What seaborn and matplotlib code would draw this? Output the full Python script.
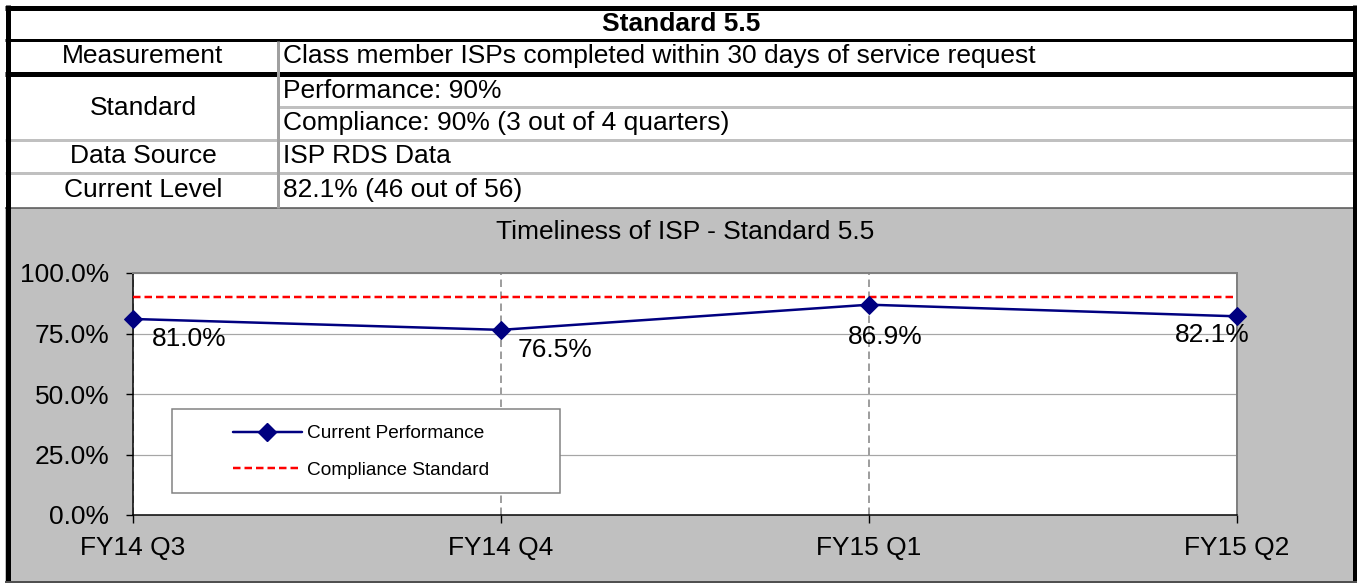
import matplotlib
matplotlib.use("Agg")
import matplotlib.pyplot as plt
import seaborn as sns
import pandas as pd
from matplotlib.patches import Rectangle
from matplotlib.lines import Line2D
from matplotlib.ticker import FuncFormatter

# ---------------- data ----------------
quarters = ["FY14 Q3", "FY14 Q4", "FY15 Q1", "FY15 Q2"]
performance = [81.0, 76.5, 86.9, 82.1]
compliance = [90.0, 90.0, 90.0, 90.0]
yticks = [0, 25, 50, 75, 100]

table_title = "Standard 5.5"
row_labels = ["Measurement", "Standard", "Data Source", "Current Level"]
measurement_text = "Class member ISPs completed within 30 days of service request"
standard_texts = ["Performance: 90%", "Compliance: 90% (3 out of 4 quarters)"]
data_source_text = "ISP RDS Data"
current_level_text = "82.1% (46 out of 56)"
chart_title = "Timeliness of ISP - Standard 5.5"
series_names = ["Current Performance", "Compliance Standard"]

# ---------------- style ----------------
sns.set_style("white")
plt.rcParams["font.family"] = ["Liberation Sans", "DejaVu Sans"]
plt.rcParams["text.color"] = "black"
plt.rcParams["xtick.color"] = "black"
plt.rcParams["ytick.color"] = "black"
plt.rcParams["axes.labelcolor"] = "black"

W, H = 1357, 584
fig = plt.figure(figsize=(W / 100, H / 100), dpi=100)
PX = 0.72  # points per pixel

bg = fig.add_axes([0, 0, 1, 1])
bg.set_xlim(0, W)
bg.set_ylim(H, 0)
bg.axis("off")

FS = 19
NAVY = "#000080"

# chart background
bg.add_patch(Rectangle((5, 208), W - 5, 374, facecolor="#c0c0c0", edgecolor="none", zorder=0))
# table background
bg.add_patch(Rectangle((5, 5), W - 5, 203, facecolor="white", edgecolor="none", zorder=0))

def hline(y, x0, x1, lw_px, color):
    bg.plot([x0, x1], [y, y], color=color, lw=lw_px * PX, solid_capstyle="butt", zorder=2)

def vline(x, y0, y1, lw_px, color):
    bg.plot([x, x], [y0, y1], color=color, lw=lw_px * PX, solid_capstyle="butt", zorder=2)

# inner table lines
hline(39.5, 5, W, 3, "black")
hline(73.5, 5, W, 5, "black")
hline(106.5, 277, W, 3, "#c0c0c0")
hline(140, 5, W, 3, "#c0c0c0")
hline(172.5, 5, W, 3, "#c0c0c0")
hline(208, 5, W, 1.5, "#505050")
vline(277.5, 41, 208, 3, "#a0a0a0")
# outer frame
hline(7.5, 5, W, 5, "black")
vline(7.5, 5, 582, 5, "black")
vline(1354.5, 5, 582, 5, "black")
hline(582, 5, W, 2, "#505050")

# table text
bg.text(681, 24, table_title, ha="center", va="center", fontsize=FS, fontweight="bold")
left_y = [56, 108, 156, 190]
for lab, y in zip(row_labels, left_y):
    bg.text(143, y, lab, ha="center", va="center", fontsize=FS)
right_texts = [measurement_text] + standard_texts + [data_source_text, current_level_text]
right_y = [56, 91, 123, 156, 190]
for t, y in zip(right_texts, right_y):
    bg.text(283, y, t, ha="left", va="center", fontsize=FS)

# chart title
bg.text(685, 232, chart_title, ha="center", va="center", fontsize=FS)

# ---------------- chart ----------------
x0, x1, ytop, ybot = 133, 1237, 273, 515
ax = fig.add_axes([x0 / W, (H - ybot) / H, (x1 - x0) / W, (ybot - ytop) / H])
ax.set_facecolor("white")

df = pd.DataFrame({"quarter": quarters, "performance": performance, "compliance": compliance})

sns.lineplot(data=df, x="quarter", y="compliance", ax=ax, color="red", lw=2.5 * PX,
             sort=False, legend=False, zorder=3)
ax.lines[-1].set_dashes((3, 1.6))
sns.lineplot(data=df, x="quarter", y="performance", ax=ax, color=NAVY, lw=2.5 * PX,
             marker="D", markersize=9.5, markeredgecolor=NAVY, markerfacecolor=NAVY,
             sort=False, legend=False, zorder=4)
for ln in ax.lines:
    ln.set_clip_on(False)

ax.set_xlim(0, len(quarters) - 1)
ax.set_ylim(0, 100)
ax.set_yticks(yticks)
ax.yaxis.set_major_formatter(FuncFormatter(lambda v, p: f"{v:.1f}%"))
ax.set_xlabel("")
ax.set_ylabel("")

ax.set_axisbelow(True)
ax.yaxis.grid(True, color="#a6a6a6", lw=1.2 * PX)
ax.xaxis.grid(True, color="#808080", lw=1.5 * PX, linestyle=(0, (5, 3)))

for side in ["left", "bottom"]:
    ax.spines[side].set_color("black")
    ax.spines[side].set_linewidth(1.5 * PX)
for side in ["top", "right"]:
    ax.spines[side].set_color("#808080")
    ax.spines[side].set_linewidth(2 * PX)

ax.tick_params(axis="y", direction="out", length=7 * PX, width=1, color="black",
               labelsize=FS, labelcolor="black", pad=12, left=True)
ax.tick_params(axis="x", direction="out", length=8 * PX, width=1, color="black",
               labelsize=FS, labelcolor="black", pad=9, bottom=True)

# data labels
label_offsets = [(19, -20, "left"), (17, -20, "left"), (16, -32, "center"), (-25, -19, "center")]
for i, (v, (dx, dy, ha)) in enumerate(zip(performance, label_offsets)):
    ax.annotate(f"{v:.1f}%", (i, v), xytext=(dx * PX, dy * PX), textcoords="offset points",
                ha=ha, va="center", fontsize=FS, color="black", zorder=6)

# legend box
def ax_x(px):
    return (px - x0) / (x1 - x0)

def ax_y(py):
    return (ybot - py) / (ybot - ytop)

ax.add_patch(Rectangle((ax_x(172), ax_y(493)), ax_x(560) - ax_x(172), ax_y(409) - ax_y(493),
                       transform=ax.transAxes, facecolor="white", edgecolor="#808080",
                       lw=1.5 * PX, zorder=5, clip_on=False))
handles = [
    Line2D([], [], color=NAVY, lw=2.5 * PX, marker="D", markersize=9.5, markeredgecolor=NAVY),
    Line2D([], [], color="red", lw=2.5 * PX, dashes=(3, 1.6)),
]
leg = ax.legend(handles, series_names, loc="center left",
                bbox_to_anchor=(ax_x(233), ax_y(452)), frameon=False, fontsize=13.7,
                handlelength=3.6, handletextpad=0.3, labelspacing=1.0, borderpad=0,
                borderaxespad=0)
for t in leg.get_texts():
    t.set_color("black")
leg.set_zorder(7)

fig.savefig("out.png", dpi=100)
